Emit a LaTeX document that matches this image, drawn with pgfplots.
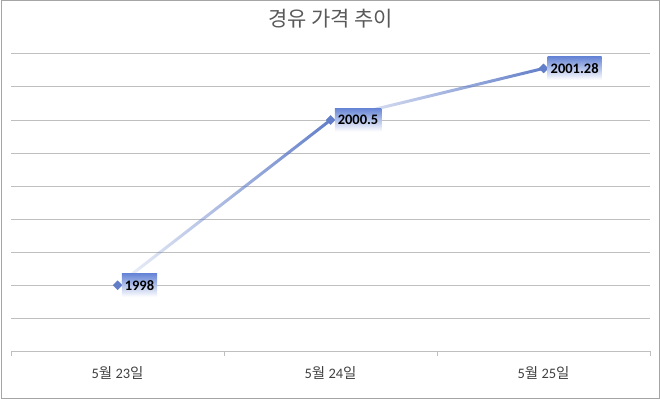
\documentclass[border=0pt]{standalone}
\usepackage{fontspec}
\setmainfont{Carlito}
\newfontfamily\kr{Noto Sans CJK KR}
\usepackage{pgfplots}
\pgfplotsset{compat=1.18}
\usetikzlibrary{fadings,calc}
\definecolor{gridgray}{RGB}{191,191,191}
\definecolor{framegray}{RGB}{165,165,165}
\definecolor{linedark}{RGB}{98,126,200}
\definecolor{lbltop}{RGB}{104,134,214}
\definecolor{lblmid}{RGB}{165,183,234}
\definecolor{titlegray}{RGB}{89,89,89}
\definecolor{ticktext}{RGB}{64,64,64}
\tikzfading[name=segfade, left color=transparent!92, right color=transparent!0]
\newcommand{\mayday}[1]{5{\kr 월} #1{\kr 일}}

\begin{document}
\begin{tikzpicture}
\begin{axis}[name=ax, scale only axis, width=640pt, height=298pt,
  xmin=-0.5, xmax=2.5, ymin=1997, ymax=2001.5,
  axis x line*=bottom, axis y line*=left,
  x axis line style={gridgray, line width=1pt},
  y axis line style={draw=none},
  ytick={1997.5,1998,...,2001.5}, yticklabels={},
  major y tick style={draw=none},
  ymajorgrids, grid style={gridgray, line width=1pt},
  xtick={0,1,2}, xticklabels={\mayday{23},\mayday{24},\mayday{25}},
  major x tick style={draw=none},
  minor xtick={-0.5,0.5,1.5,2.5},
  minor x tick style={gridgray, line width=1pt},
  minor tick length=5pt, tick align=outside,
  xticklabel style={font=\fontsize{14.5}{16}\selectfont, text=ticktext, yshift=-7pt},
  title={\kr 경유 가격 추이},
  title style={font=\kr\fontsize{21}{24}\selectfont, text=titlegray,
    at={(0.5,1)}, anchor=center, yshift=29pt},
  clip=false]
\addplot[linedark, line width=3pt, path fading=segfade] coordinates {(0,1998) (1,2000.5)};
\addplot[linedark, line width=3pt, path fading=segfade] coordinates {(1,2000.5) (2,2001.28)};
\addplot[only marks, mark=square*, mark size=3.2pt,
  mark options={draw=linedark, fill=linedark, rotate=45},
  point meta=explicit symbolic, nodes near coords,
  every node near coord/.style={anchor=west, xshift=4pt, yshift=0pt,
    top color=lbltop, middle color=lblmid, bottom color=white,
    font=\bfseries\fontsize{14.5}{16}\selectfont, text=black,
    inner xsep=3pt, minimum height=23pt}]
  coordinates {(0,1998) [1998] (1,2000.5) [2000.5] (2,2001.28) [2001.28]};
\end{axis}
\draw[framegray, line width=1pt] ($(ax.south west)+(-9.5pt,-47.5pt)$) rectangle ($(ax.north east)+(9.5pt,53.5pt)$);
\end{tikzpicture}
\end{document}
